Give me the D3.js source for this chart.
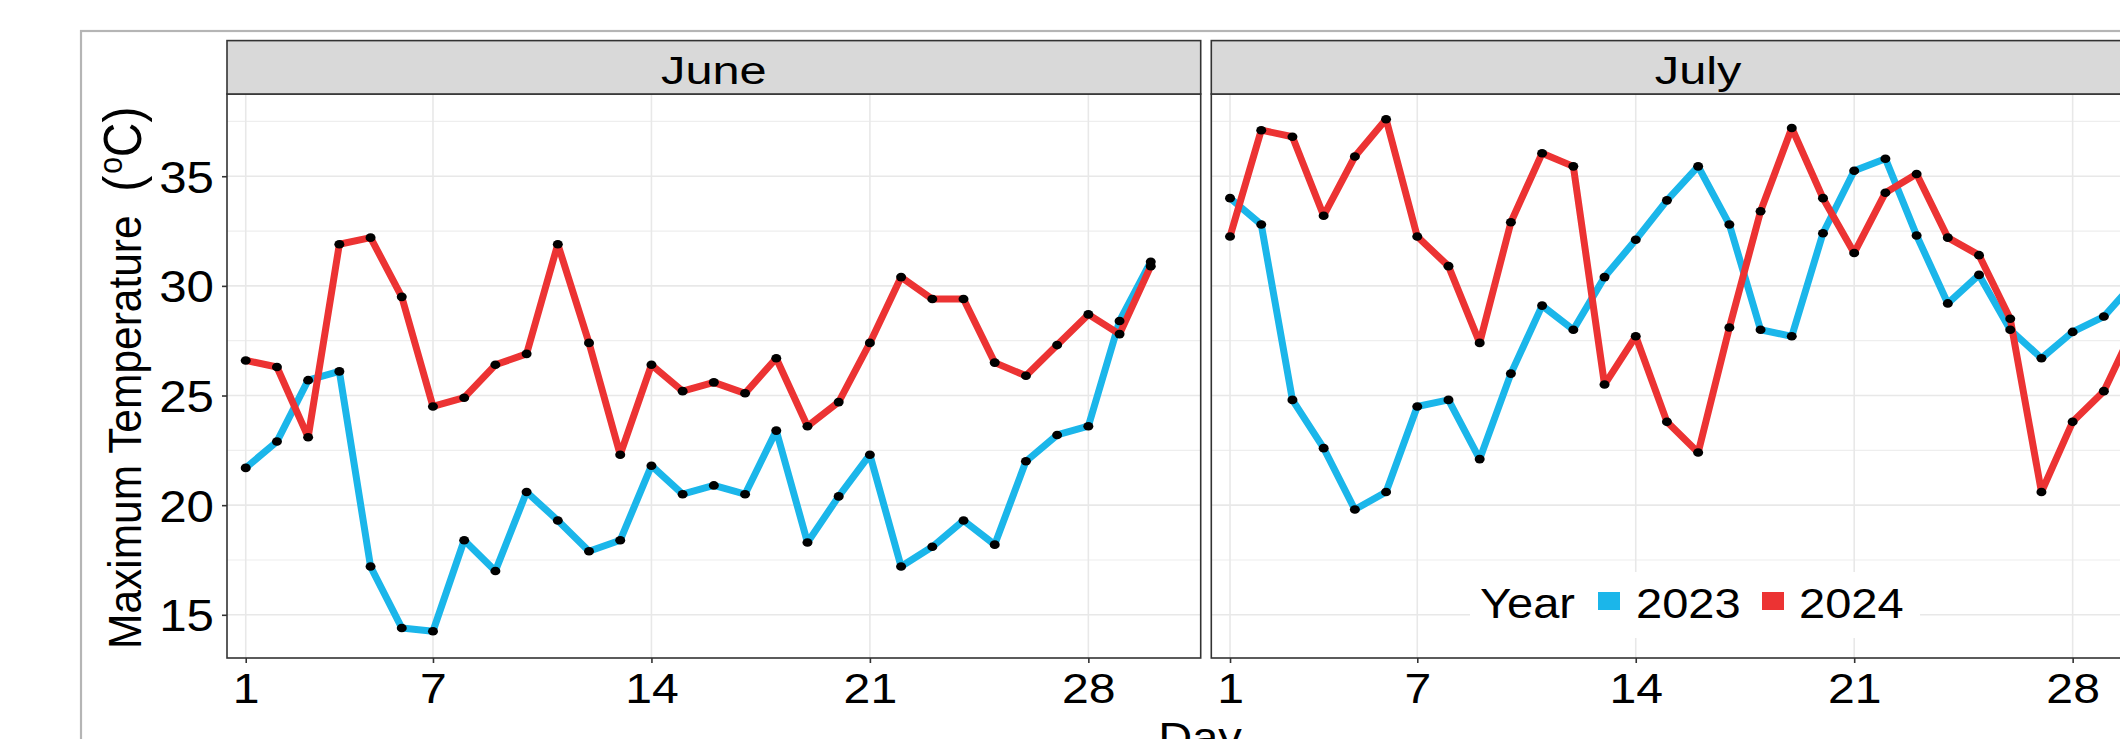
<!DOCTYPE html>
<meta charset="utf-8">
<style>
  body { margin: 0; background: #fff; }
  text { font-family: "Liberation Sans", Arial, sans-serif; fill: #000; }
</style>
<body>
<script src="https://d3js.org/d3.v7.min.js"></script>
<script>
  // ---- data ----
  var months = ["June", "July"];
  var years = ["2023", "2024"];
  var juneDays = d3.range(1, 31);
  var julyDays = d3.range(1, 31);

  var june2023 = [21.7, 22.9, 25.7, 26.1, 17.2, 14.4, 14.25, 18.4, 17.0, 20.6,
                  19.3, 17.9, 18.4, 21.8, 20.5, 20.9, 20.5, 23.4, 18.3, 20.4,
                  22.3, 17.2, 18.1, 19.3, 18.2, 22.0, 23.2, 23.6, 28.4, 31.1];
  var june2024 = [26.6, 26.3, 23.1, 31.9, 32.2, 29.5, 24.5, 24.9, 26.4, 26.9,
                  31.9, 27.4, 22.3, 26.4, 25.2, 25.6, 25.1, 26.7, 23.6, 24.7,
                  27.4, 30.4, 29.4, 29.4, 26.5, 25.9, 27.3, 28.7, 27.8, 30.9];
  var july2023 = [34.0, 32.8, 24.8, 22.6, 19.8, 20.6, 24.5, 24.8, 22.1, 26.0,
                  29.1, 28.0, 30.4, 32.1, 33.9, 35.45, 32.8, 28.0, 27.7, 32.4,
                  35.25, 35.8, 32.3, 29.2, 30.5, 28.0, 26.7, 27.9, 28.6, 30.2];
  var july2024 = [32.25, 37.1, 36.8, 33.2, 35.9, 37.6, 32.25, 30.9, 27.4, 32.9,
                  36.05, 35.45, 25.5, 27.7, 23.8, 22.4, 28.1, 33.4, 37.2, 34.0,
                  31.5, 34.25, 35.1, 32.2, 31.4, 28.5, 20.6, 23.8, 25.2, 28.2];

  var xTicks = [1, 7, 14, 21, 28];
  var yTicks = [15, 20, 25, 30, 35];
  var yMinor = [17.5, 22.5, 27.5, 32.5, 37.5];
  var colors = {"2023": "#1bb6ea", "2024": "#ec3333"};

  var series = {
    June: [{year: "2023", days: juneDays, vals: june2023}, {year: "2024", days: juneDays, vals: june2024}],
    July: [{year: "2023", days: julyDays, vals: july2023}, {year: "2024", days: julyDays, vals: july2024}]
  };

  // ---- layout ----
  var W = 2120, H = 739;
  var panelW = 973.7, gap = 10.6;
  var panelLeft = [227, 227 + panelW + gap];
  var stripTop = 40.6, panelTop = 94, panelBottom = 658;
  var sx = 1.12; // glyphs in the reference are a bit wide

  var svg = d3.select("body").append("svg")
    .attr("width", W)
    .attr("height", H);

  // outer plot border (grey)
  svg.append("rect")
    .attr("x", 81).attr("y", 31)
    .attr("width", W + 50).attr("height", H + 50)
    .attr("fill", "none")
    .attr("stroke", "#b5b5b5")
    .attr("stroke-width", 2.2);

  var y = d3.scaleLinear().domain([13.03, 38.75]).range([panelBottom, panelTop]);

  var line = d3.line()
    .x(function(d) { return d.x; })
    .y(function(d) { return d.y; });

  months.forEach(function(m, i) {
    var x0 = panelLeft[i];
    var x = d3.scaleLinear().domain([0.4, 31.6]).range([x0, x0 + panelW]);

    var g = svg.append("g");
    var clipId = "clip" + i;
    svg.append("clipPath").attr("id", clipId)
      .append("rect")
      .attr("x", x0).attr("y", panelTop)
      .attr("width", panelW).attr("height", panelBottom - panelTop);

    // grid
    g.selectAll(".ymin").data(yMinor).enter().append("line")
      .attr("x1", x0).attr("x2", x0 + panelW)
      .attr("y1", function(d) { return y(d); }).attr("y2", function(d) { return y(d); })
      .attr("stroke", "#eeeeee").attr("stroke-width", 1.2);
    g.selectAll(".ymaj").data(yTicks).enter().append("line")
      .attr("x1", x0).attr("x2", x0 + panelW)
      .attr("y1", function(d) { return y(d); }).attr("y2", function(d) { return y(d); })
      .attr("stroke", "#e8e8e8").attr("stroke-width", 1.6);
    g.selectAll(".xmaj").data(xTicks).enter().append("line")
      .attr("y1", panelTop).attr("y2", panelBottom)
      .attr("x1", function(d) { return x(d); }).attr("x2", function(d) { return x(d); })
      .attr("stroke", "#e8e8e8").attr("stroke-width", 1.6);

    // lines + points
    var plot = g.append("g").attr("clip-path", "url(#" + clipId + ")");
    series[m].forEach(function(s) {
      var pts = s.days.map(function(d, k) { return {x: x(d), y: y(s.vals[k])}; });
      plot.append("path")
        .datum(pts)
        .attr("d", line)
        .attr("fill", "none")
        .attr("stroke", colors[s.year])
        .attr("stroke-width", 7)
        .attr("stroke-linejoin", "round");
    });
    series[m].forEach(function(s) {
      plot.selectAll(null)
        .data(s.days.map(function(d, k) { return {x: x(d), y: y(s.vals[k])}; }))
        .enter().append("ellipse")
        .attr("cx", function(d) { return d.x; })
        .attr("cy", function(d) { return d.y; })
        .attr("rx", 5).attr("ry", 4.3)
        .attr("fill", "#000");
    });

    // panel border
    g.append("rect")
      .attr("x", x0).attr("y", panelTop)
      .attr("width", panelW).attr("height", panelBottom - panelTop)
      .attr("fill", "none").attr("stroke", "#333").attr("stroke-width", 1.6);

    // strip
    g.append("rect")
      .attr("x", x0).attr("y", stripTop)
      .attr("width", panelW).attr("height", panelTop - stripTop)
      .attr("fill", "#d9d9d9").attr("stroke", "#333").attr("stroke-width", 1.6);
    g.append("text")
      .attr("transform", "translate(" + (x0 + panelW / 2) + ",84) scale(1.25,1)")
      .attr("text-anchor", "middle")
      .attr("font-size", 39)
      .attr("fill", "#1a1a1a")
      .text(m);

    // x axis
    var xa = svg.append("g")
      .attr("transform", "translate(0," + panelBottom + ")")
      .call(d3.axisBottom(x).tickValues(xTicks).tickSize(5).tickPadding(0).tickFormat(d3.format("d")));
    xa.select(".domain").remove();
    xa.selectAll(".tick line").attr("stroke", "#333").attr("stroke-width", 1.6);
    xa.selectAll(".tick text")
      .attr("font-size", 43)
      .attr("font-family", "Liberation Sans, Arial, sans-serif")
      .attr("fill", "#000")
      .attr("dy", null)
      .attr("y", 0)
      .attr("transform", "translate(0,45) scale(" + sx + ",1)");
  });

  // y axis
  var ya = svg.append("g")
    .attr("transform", "translate(" + panelLeft[0] + ",0)")
    .call(d3.axisLeft(y).tickValues(yTicks).tickSize(5).tickPadding(0));
  ya.select(".domain").remove();
  ya.selectAll(".tick line").attr("stroke", "#333").attr("stroke-width", 1.6);
  ya.selectAll(".tick text")
    .attr("font-size", 44)
    .attr("font-family", "Liberation Sans, Arial, sans-serif")
    .attr("fill", "#000")
    .attr("x", 0)
    .attr("dy", "0.36em")
    .attr("transform", "translate(-13,0) scale(" + sx + ",1)");

  // y axis title, read bottom to top
  var yt = svg.append("text")
    .attr("transform", "translate(141,649) scale(1.1,1) rotate(-90)")
    .attr("text-anchor", "start")
    .attr("font-size", 42.5);
  yt.append("tspan").text("Maximum Temperature\u00a0\u00a0");
  yt.append("tspan").attr("font-size", 48).text("(");
  yt.append("tspan").attr("font-size", 30).attr("dy", -17).attr("dx", 2).text("o");
  yt.append("tspan").attr("font-size", 48).attr("dy", 17).text("C)");

  // x axis title
  svg.append("text")
    .attr("transform", "translate(1200,752) scale(" + sx + ",1)")
    .attr("text-anchor", "middle")
    .attr("font-size", 42)
    .text("Day");

  // legend inside July panel
  var lg = svg.append("g");
  lg.append("rect")
    .attr("x", 1470).attr("y", 572).attr("width", 450).attr("height", 66)
    .attr("fill", "#fff");
  var items = [{t: "Year", x: 1480}, {t: years[0], x: 1636}, {t: years[1], x: 1799}];
  items.forEach(function(it) {
    lg.append("text")
      .attr("transform", "translate(" + it.x + ",618) scale(" + sx + ",1)")
      .attr("font-size", 42)
      .text(it.t);
  });
  [{yr: years[0], x: 1598}, {yr: years[1], x: 1762}].forEach(function(k) {
    lg.append("rect")
      .attr("x", k.x).attr("y", 592).attr("width", 22).attr("height", 18)
      .attr("fill", colors[k.yr]);
  });
</script>
</body>
